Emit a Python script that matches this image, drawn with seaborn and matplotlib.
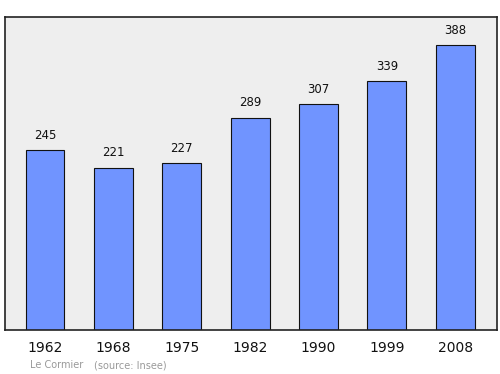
import matplotlib
matplotlib.use("Agg")
import matplotlib.pyplot as plt
import seaborn as sns
import pandas as pd

years = ["1962", "1968", "1975", "1982", "1990", "1999", "2008"]
population = [245, 221, 227, 289, 307, 339, 388]

sns.set_style("white")
plt.rcParams['font.family'] = ['DejaVu Sans']

df = pd.DataFrame({"year": years, "pop": population})

fig = plt.figure(figsize=(5, 3.74), dpi=100)
ax = fig.add_axes([0.01, 1 - 330/374, 0.984, (330 - 17)/374])
ax.set_facecolor("#eeeeee")

sns.barplot(data=df, x="year", y="pop", color="#7094ff", saturation=1,
            width=0.57, edgecolor="#111111", linewidth=0.8, ax=ax)

for i, v in enumerate(population):
    ax.annotate(str(v), (i, v), xytext=(0, 6), textcoords="offset points",
                ha="center", va="bottom", fontsize=8.5, color="#111111")

ax.set_xlim(-0.585, 6.61)
ax.set_ylim(0, 426)
ax.set_yticks([])
ax.set_xlabel("")
ax.set_ylabel("")
ax.tick_params(axis="x", length=0, pad=8, labelsize=10, colors="#111111")
for s in ax.spines.values():
    s.set_color("#222222")
    s.set_linewidth(1.2)

fig.text(30/500, 1 - 368.5/374, "Le Cormier", fontsize=7, color="#999999",
         ha="left", va="baseline")
fig.text(94/500, 1 - 368.5/374, "(source: Insee)", fontsize=7, color="#999999",
         ha="left", va="baseline")

fig.savefig("out.png", dpi=100)
